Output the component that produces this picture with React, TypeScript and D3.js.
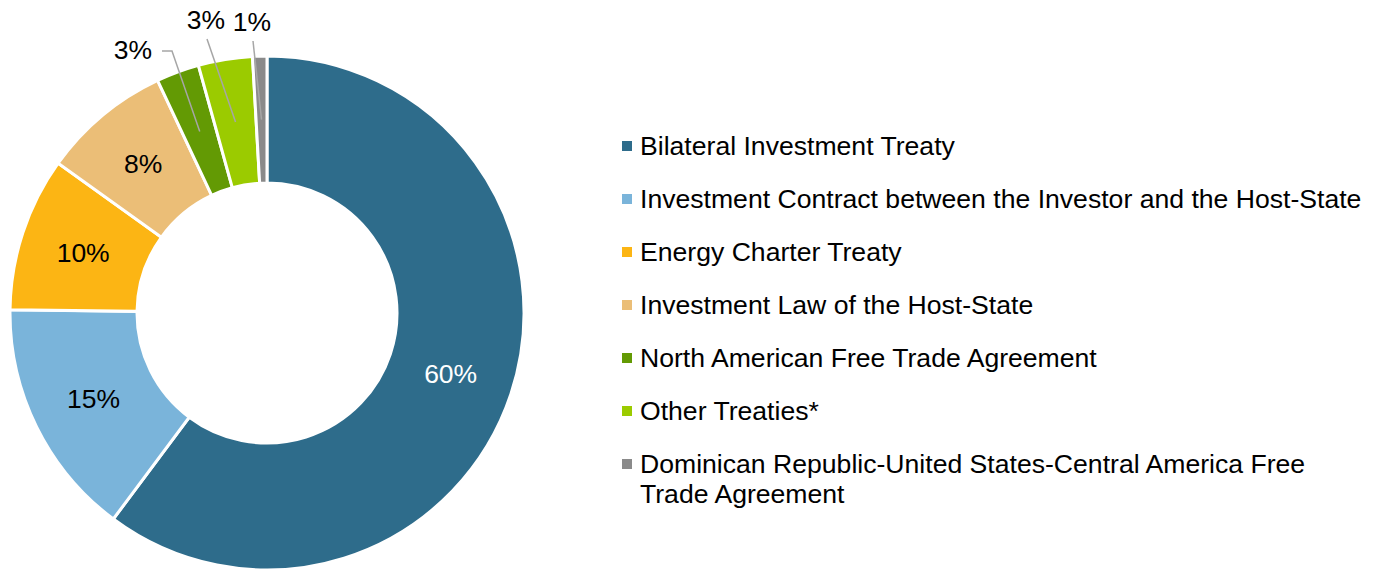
import React from "react";
import * as d3 from "d3";

const categories = [
  "Bilateral Investment Treaty",
  "Investment Contract between the Investor and the Host-State",
  "Energy Charter Treaty",
  "Investment Law of the Host-State",
  "North American Free Trade Agreement",
  "Other Treaties*",
  "Dominican Republic-United States-Central America Free Trade Agreement",
];
const legendLines = [
  ["Bilateral Investment Treaty"],
  ["Investment Contract between the Investor and the Host-State"],
  ["Energy Charter Treaty"],
  ["Investment Law of the Host-State"],
  ["North American Free Trade Agreement"],
  ["Other Treaties*"],
  ["Dominican Republic-United States-Central America Free", "Trade Agreement"],
];
const values = [60.2, 15, 9.7, 8.1, 2.7, 3.4, 0.9];
const colors = ["#2E6C8B", "#7AB4DA", "#FCB514", "#EBBE77", "#639A04", "#9BCB00", "#8A8A8A"];

// outside label placements (layout) for small slices
const outsideLabels: Record<number, { x: number; y: number; path: "elbow" | "straight" }> = {
  4: { x: 133, y: 50, path: "elbow" },
  5: { x: 206, y: 20, path: "straight" },
  6: { x: 252, y: 22, path: "straight" },
};

export default function App() {
  const W = 1379, H = 569;
  const cx = 267, cy = 313, R = 257, r = 130;
  const pie = d3.pie<number>().sort(null).value((d) => d)(values);
  const arc = d3.arc<d3.PieArcDatum<number>>().innerRadius(r).outerRadius(R);
  const total = d3.sum(values);
  const font = "'Liberation Sans', Arial, sans-serif";
  const rowY = d3.scaleLinear().domain([0, 1]).range([146, 199]);

  return (
    <svg width={W} height={H} style={{ position: "absolute", left: 0, top: 0, background: "#fff" }} fontFamily={font}>
      <g transform={`translate(${cx},${cy})`}>
        {pie.map((p, i) => (
          <path key={i} d={arc(p) || ""} fill={colors[i]} stroke="#fff" strokeWidth={3} />
        ))}
        {pie.map((p, i) => {
          const pct = Math.round((values[i] / total) * 100) + "%";
          const [x, y] = arc.centroid(p);
          const o = outsideLabels[i];
          if (o) {
            const lx = o.x - cx, ly = o.y - cy;
            let d: string;
            if (o.path === "elbow") {
              d = `M${lx + 29},${ly + 1} L${lx + 39},${ly + 1} L${x},${y}`;
            } else {
              d = `M${lx + 1},${ly + 19} L${x},${y}`;
            }
            return (
              <g key={"l" + i}>
                <path d={d} fill="none" stroke="#A6A6A6" strokeWidth={1.5} />
                <text x={lx} y={ly} textAnchor="middle" dominantBaseline="central" fontSize={26.5} fill="#000">
                  {pct}
                </text>
              </g>
            );
          }
          return (
            <text key={"l" + i} x={x} y={y} textAnchor="middle" dominantBaseline="central" fontSize={26.5}
              fill={i === 0 ? "#fff" : "#000"}>
              {pct}
            </text>
          );
        })}
      </g>
      <g>
        {categories.map((c, i) => (
          <g key={c} transform={`translate(622,${rowY(i)})`}>
            <rect x={0} y={-5} width={10} height={10} fill={colors[i]} />
            <text x={18} y={0} fontSize={26.6} fill="#000" dominantBaseline="central">
              {legendLines[i].map((ln, j) => (
                <tspan key={j} x={18} dy={j === 0 ? 0 : 30}>{ln}</tspan>
              ))}
            </text>
          </g>
        ))}
      </g>
    </svg>
  );
}
